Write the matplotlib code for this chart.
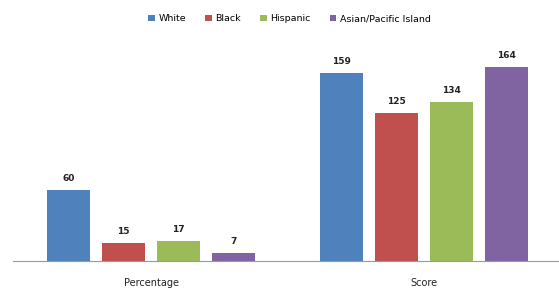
import matplotlib.pyplot as plt
import numpy as np

categories = ["Percentage", "Score"]
series = ["White", "Black", "Hispanic", "Asian/Pacific Island"]
white = [60, 159]
black = [15, 125]
hispanic = [17, 134]
asian = [7, 164]
colors = ["#4F81BD", "#C0504D", "#9BBB59", "#8064A2"]

values = [white, black, hispanic, asian]

fig = plt.figure(figsize=(5.59, 2.89), dpi=100)
ax = fig.add_axes([13 / 559, 28 / 289, 546 / 559, 221 / 289])

x = np.arange(len(categories))
pitch = 0.2015
width = 0.161
for i, (name, vals, c) in enumerate(zip(series, values, colors)):
    pos = x + (i - 1.5) * pitch
    bars = ax.bar(pos, vals, width, color=c, label=name)
    for b, v in zip(bars, vals):
        ax.text(b.get_x() + b.get_width() / 2, v + 6, str(v),
                ha="center", va="bottom", fontsize=6.5, color="#222222",
                fontweight="bold")

ax.set_xlim(-0.5055, 1.4945)
ax.set_ylim(0, 186.8)
ax.set_xticks(x)
ax.set_xticklabels(categories, fontsize=7, color="#222222")
ax.tick_params(axis="x", length=0, pad=12)
ax.set_yticks([])
for s in ["top", "right", "left"]:
    ax.spines[s].set_visible(False)
ax.spines["bottom"].set_color("#999999")

fig.legend(loc="upper center", bbox_to_anchor=(0.518, 0.98), ncol=4,
           frameon=False, fontsize=6.8, handlelength=0.7, handleheight=0.7,
           handletextpad=0.4, columnspacing=2.0)

fig.savefig("out.png", dpi=100)
